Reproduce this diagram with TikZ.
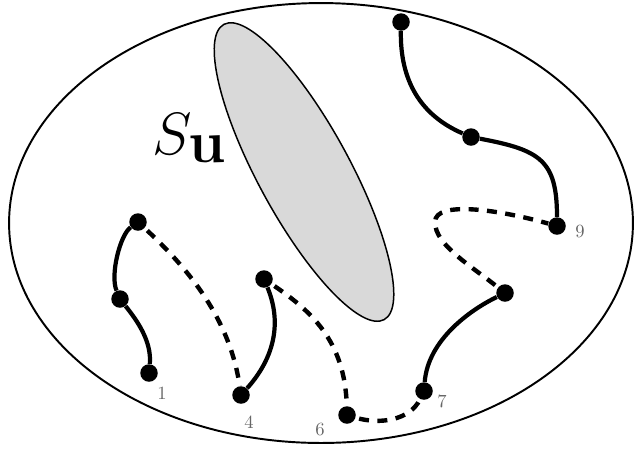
\RequirePackage{fix-cm}
\documentclass[tikz,border=0pt]{standalone}
\usepackage{amsmath}
\usetikzlibrary{positioning}
\tikzset{
    % Regions
    region/.style   = {draw=black, line width=1.1pt},
    blocked/.style  = {region, line width=0.85pt, fill=black!15},
    % Points and their numbers
    vertex/.style   = {circle, fill=black, inner sep=0pt, minimum size=0.35cm},
    num/.style      = {text=black!60, inner sep=0pt, font=\fontsize{10.6}{12}\selectfont},
    % Paths
    solidpath/.style = {line width=2.4pt},
    dashpath/.style  = {line width=2.5pt, dash pattern=on 5.7pt off 4.8pt, dash phase=-2pt}
}

\begin{document}
\begin{tikzpicture}[x=0.02cm, y=-0.02cm]
    \useasboundingbox (0,0) rectangle (634,451);

    \draw [region] (321,223) ellipse [x radius=6.24cm, y radius=4.4cm];
    \draw [blocked, rotate around={-61.5:(304,172)}] (304,172) ellipse [x radius=3.36cm, y radius=0.92cm];
    \node (su) [anchor=base west, inner sep=0pt, font=\fontsize{34}{40}\selectfont] at (152,154) {$S_{\textstyle\mathbf{u}}$};

    % Points
    \node (p1) [vertex] at (138,222) {};
    \node (p2) [vertex] at (120,299) {};
    \node (n1) [vertex] at (149,373) {};
    \node (n4) [vertex] at (241,395) {};
    \node (p5) [vertex] at (264,279) {};
    \node (n6) [vertex] at (347,415) {};
    \node (n7) [vertex] at (424,391) {};
    \node (p8) [vertex] at (505,293) {};
    \node (n9) [vertex] at (557,226) {};
    \node (p10) [vertex] at (471,137) {};
    \node (p11) [vertex] at (401,22) {};
    \coordinate (turn) at (435,222);

    \node (l1) [num] at (162,393) {1};
    \node (l4) [num] at (249,422) {4};
    \node (l6) [num] at (320,429) {6};
    \node (l7) [num] at (442,401) {7};
    \node (l9) [num] at (580,231) {9};

    \draw [solidpath] (p1) .. controls (120,235) and (110,275) .. (p2);
    \draw [solidpath] (p2) .. controls (135,318) and (152,340) .. (n1);
    \draw [dashpath] (p1) .. controls (190,270) and (230,320) .. (n4);
    \draw [solidpath] (n4) .. controls (268,365) and (285,330) .. (p5);
    \draw [dashpath] (p5) .. controls (310,310) and (345,340) .. (n6);
    \draw [dashpath] (n6) .. controls (380,425) and (410,420) .. (n7);
    \draw [solidpath] (n7) .. controls (428,340) and (470,310) .. (p8);
    \draw [dashpath] (p8) .. controls (470,265) and (435,245) .. (turn)
                          .. controls (435,200) and (500,210) .. (n9);
    \draw [solidpath] (n9) .. controls (557,160) and (540,150) .. (p10);
    \draw [solidpath] (p10) .. controls (420,115) and (400,80) .. (p11);
\end{tikzpicture}
\end{document}
